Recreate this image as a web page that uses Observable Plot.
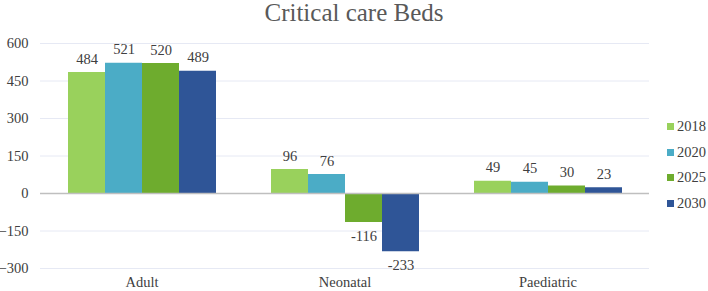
<!DOCTYPE html>
<html>
<head>
<meta charset="utf-8">
<script src="https://cdn.jsdelivr.net/npm/d3@7"></script>
<script src="https://cdn.jsdelivr.net/npm/@observablehq/plot@0.6"></script>
<style>
  html, body { margin: 0; padding: 0; background: #fff; }
  #wrap { position: relative; width: 708px; height: 291px; font-family: "Liberation Serif", "Times New Roman", serif; color: #595959; }
  #title { height: 28px; line-height: 26px; text-align: center; font-size: 25px; font-family: "Liberation Serif", serif; }
  #legend { position: absolute; left: 667px; top: 114px; }
  .item { display: flex; align-items: center; height: 25.5px; font-size: 14.5px; font-family: "Liberation Serif", serif; color: #404040; }
  .sw { width: 7px; height: 7px; margin-right: 3px; }
  svg text { font-family: "Liberation Serif", serif; }
</style>
</head>
<body>
<div id="wrap">
  <div id="title">Critical care Beds</div>
  <div id="chart"></div>
  <div id="legend"></div>
</div>
<script>
const categories = ["Adult", "Neonatal", "Paediatric"];
const years = ["2018", "2020", "2025", "2030"];
const values2018 = [484, 96, 49];
const values2020 = [521, 76, 45];
const values2025 = [520, -116, 30];
const values2030 = [489, -233, 23];
const yTicks = [-300, -150, 0, 150, 300, 450, 600];
const colors = ["#99D15C", "#4BACC6", "#6EAC2E", "#2F5597"];

const series = [values2018, values2020, values2025, values2030];
const data = [];
categories.forEach((c, i) => {
  years.forEach((y, j) => data.push({cat: c, year: y, value: series[j][i]}));
});

const font = "'Liberation Serif', serif";
const chart = Plot.plot({
  width: 708, height: 263,
  marginLeft: 40, marginRight: 59, marginTop: 15, marginBottom: 23,
  style: {fontFamily: font, fontSize: "14.5px", color: "#595959", background: "#fff"},
  fx: {domain: categories, padding: 0, label: null},
  x: {domain: years, paddingInner: 0, paddingOuter: 0.74, axis: null},
  y: {domain: [-300, 600], label: null},
  color: {domain: years, range: colors},
  marks: [
    Plot.gridY(yTicks, {stroke: "#E6E9F4", strokeOpacity: 1, strokeWidth: 1}),
    Plot.barY(data, {fx: "cat", x: "year", y: "value", fill: "year"}),
    Plot.ruleY([0], {stroke: "#BFBFBF", strokeWidth: 1.5}),
    Plot.text(data.filter(d => d.value >= 0), {fx: "cat", x: "year", y: "value", text: d => String(d.value), lineAnchor: "bottom", dy: -9, fill: "#404040", fontSize: 14.5}),
    Plot.text(data.filter(d => d.value < 0), {fx: "cat", x: "year", y: "value", text: d => String(d.value), lineAnchor: "top", dy: 8, fill: "#404040", fontSize: 14.5}),
    Plot.axisY(yTicks, {tickSize: 0, tickPadding: 12, label: null, fill: "#404040", fontSize: 14.5}),
    Plot.axisFx({anchor: "bottom", tickSize: 0, tickPadding: 8, label: null, fill: "#404040", fontSize: 14.5})
  ]
});
document.getElementById("chart").appendChild(chart);

const legend = document.getElementById("legend");
years.forEach((y, j) => {
  const it = document.createElement("div");
  it.className = "item";
  it.innerHTML = `<div class="sw" style="background:${colors[j]}"></div><span>${y}</span>`;
  legend.appendChild(it);
});
</script>
</body>
</html>
